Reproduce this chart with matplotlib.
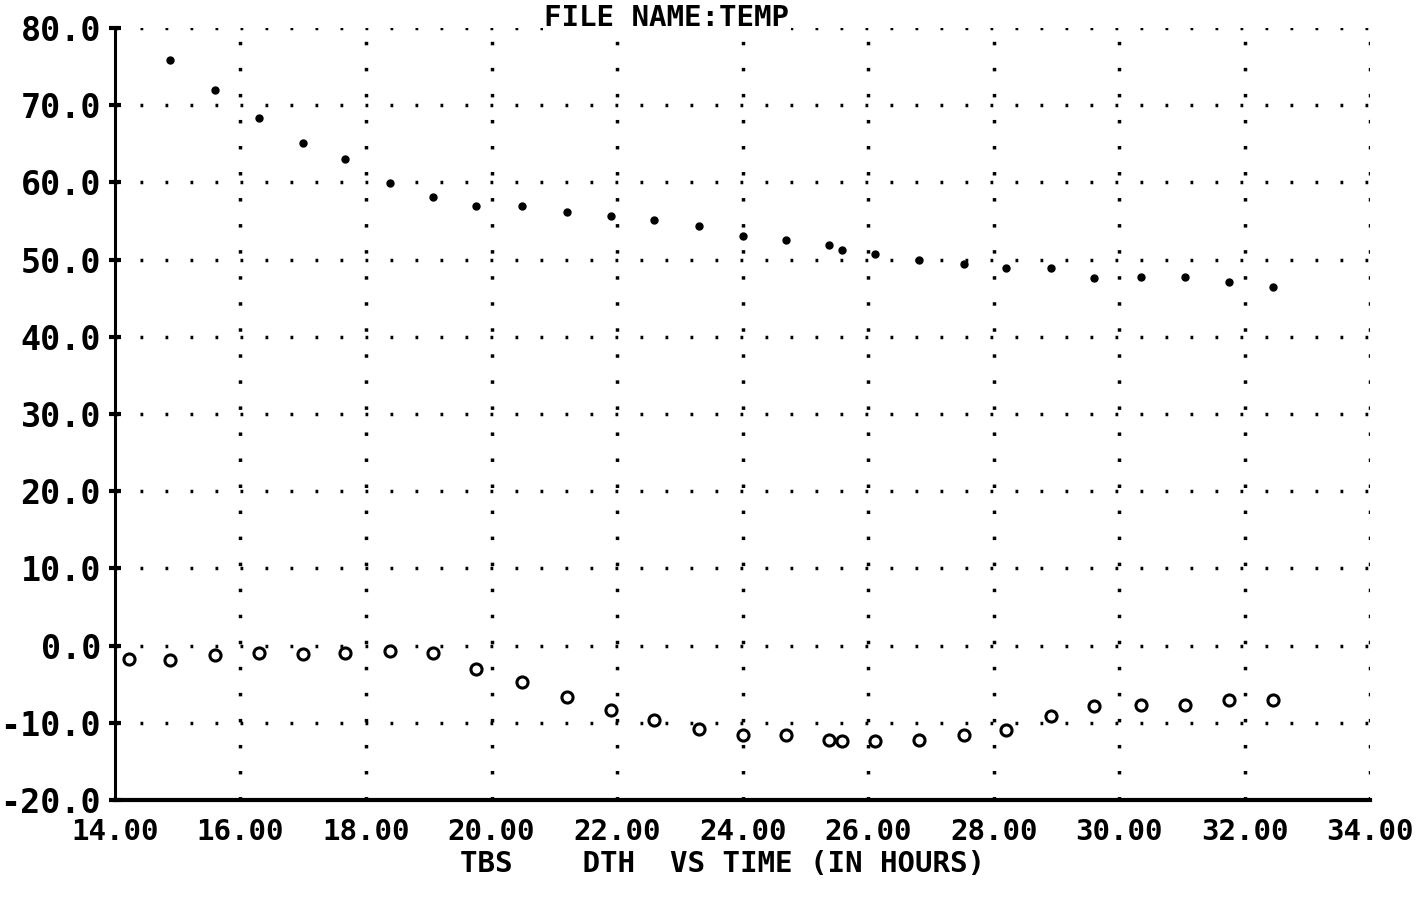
#TBS / DTH vs time - dot matrix printout (FILE NAME:TEMP)
import numpy as np
import matplotlib
matplotlib.use("Agg")
from matplotlib import pyplot as plt
from matplotlib.ticker import FormatStrFormatter

# time in hours
hours = [14.23, 14.88, 15.60, 16.29, 17.00, 17.67, 18.38, 19.07, 19.75, 20.48,
         21.20, 21.90, 22.58, 23.30, 24.01, 24.69, 25.38, 25.59, 26.11, 26.81,
         27.52, 28.20, 28.91, 29.60, 30.34, 31.04, 31.74, 32.45]
# TBS (filled dots) - first reading is off the chart
tbs = [np.nan, 75.8, 72.0, 68.3, 65.1, 63.1, 59.9, 58.1, 56.9, 56.9,
       56.2, 55.7, 55.1, 54.4, 53.1, 52.5, 51.9, 51.2, 50.7, 50.0,
       49.5, 48.9, 48.9, 47.6, 47.7, 47.7, 47.1, 46.5]
# DTH (open circles)
dth = [-1.7, -1.8, -1.2, -1.0, -1.05, -1.0, -0.7, -0.9, -3.0, -4.75,
       -6.7, -8.35, -9.6, -10.8, -11.6, -11.6, -12.2, -12.3, -12.3, -12.2,
       -11.6, -10.9, -9.1, -7.8, -7.7, -7.7, -7.0, -7.0]

xticks = [14, 16, 18, 20, 22, 24, 26, 28, 30, 32, 34]
yticks = [-20, -10, 0, 10, 20, 30, 40, 50, 60, 70, 80]

plt.rcParams['font.family'] = ['DejaVu Sans Mono']
plt.rcParams['font.weight'] = 'bold'

fig = plt.figure(figsize=(14.26, 9.05), dpi=100)
ax = fig.add_axes([0.0806, 0.116, 0.8804, 0.853])

ax.plot(hours, tbs, linestyle='none', marker='o', markersize=5,
        color='black', zorder=3)
ax.plot(hours, dth, linestyle='none', marker='o', markersize=8,
        markerfacecolor='white', markeredgecolor='black', markeredgewidth=2.2,
        zorder=3)

ax.set_xlim(14, 34)
ax.set_ylim(-20, 80)
ax.set_xticks(xticks)
ax.set_yticks(yticks)
ax.xaxis.set_major_formatter(FormatStrFormatter('%.2f'))
ax.yaxis.set_major_formatter(FormatStrFormatter('%.1f'))

# dotted grid like the printer output
for y in yticks[1:]:
    ax.axhline(y, color='black', lw=2.5, linestyle=(0, (0.8, 6.4)), zorder=1)
for x in xticks[1:]:
    ax.axvline(x, color='black', lw=2.5, linestyle=(0, (1.0, 6.5)), zorder=1)

ax.spines['top'].set_visible(False)
ax.spines['right'].set_visible(False)
ax.spines['left'].set_linewidth(2.2)
ax.spines['bottom'].set_linewidth(3)

ax.tick_params(axis='y', direction='inout', length=8, width=3, pad=6,
               labelsize=24)
ax.tick_params(axis='x', direction='inout', length=0, width=3, pad=13,
               labelsize=21)
for lab in ax.get_xticklabels() + ax.get_yticklabels():
    lab.set_fontweight('bold')

fig.text(667 / 1426, 1 - 18 / 905, "FILE NAME:TEMP", ha='center', va='center',
         fontsize=21, fontweight='bold',
         bbox=dict(facecolor='white', edgecolor='none', pad=1))
fig.text(722 / 1426, 1 - 864 / 905, "TBS    DTH  VS TIME (IN HOURS)",
         ha='center', va='center', fontsize=21, fontweight='bold')

fig.savefig('out.png', dpi=100, facecolor='white')
